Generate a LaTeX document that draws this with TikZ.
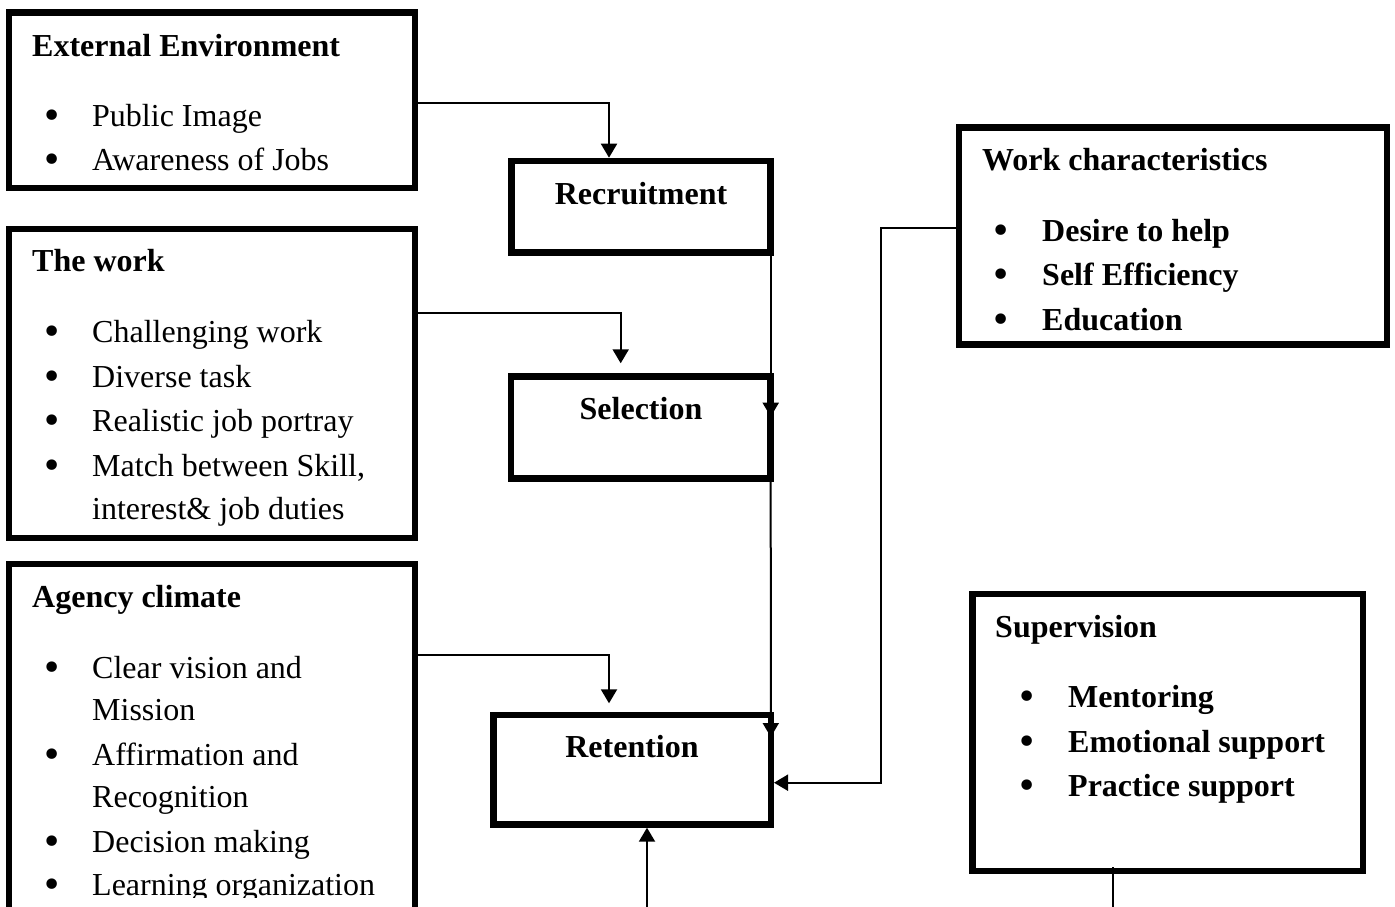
\documentclass[tikz,border=0pt]{standalone}
\usepackage{fontspec}
\setmainfont{Liberation Serif}
\newfontfamily\bulfont{DejaVu Sans}
\usetikzlibrary{arrows.meta}
\begin{document}
\begin{tikzpicture}[x=1pt,y=-1pt,
  box/.style={draw, rectangle, line width=6.5pt, inner sep=0pt, outer sep=0pt},
  conn/.style={line width=2pt},
  arr/.style={conn, -{Triangle[width=16pt,length=14pt]}},
  txt/.style={anchor=base west, inner sep=0pt, font=\fontsize{32}{38}\selectfont},
  ttl/.style={anchor=base west, inner sep=0pt, font=\fontsize{32}{38}\selectfont\bfseries},
  btxt/.style={ttl},
  lbl/.style={anchor=base, inner sep=0pt, font=\fontsize{32}{38}\selectfont\bfseries},
  bul/.style={anchor=base, inner sep=0pt, yshift=-2pt, font=\bulfont\fontsize{36}{40}\selectfont}]
\useasboundingbox (0,0) rectangle (1395,907);
\clip (0,0) rectangle (1395,907);

% ---------- boxes ----------
\node[box, minimum width=406pt, minimum height=175.3pt] (ext) at (212,100.35) {};
\node[box, minimum width=406pt, minimum height=309pt] (work) at (212,383.5) {};
\node[box, minimum width=406pt, minimum height=396pt] (agency) at (212,762) {};
\node[box, minimum width=259.4pt, minimum height=91.3pt] (rec) at (641,206.65) {};
\node[box, minimum width=259.7pt, minimum height=101.6pt] (sel) at (640.85,427.5) {};
\node[box, minimum width=277.5pt, minimum height=109.3pt] (ret) at (632.05,769.65) {};
\node[box, minimum width=428pt, minimum height=217pt] (wc) at (1173,236) {};
\node[box, minimum width=390.3pt, minimum height=277pt] (sup) at (1167.85,732.5) {};

% ---------- External Environment ----------
\node[ttl] (extT) at (32,56.5) {External Environment};
\node[bul] (ext1b) at (52,126.5) {•};
\node[txt] (ext1) at (92,126.5) {Public Image};
\node[bul] (ext2b) at (52,170.5) {•};
\node[txt] (ext2) at (92,170.5) {Awareness of Jobs};

% ---------- The work ----------
\node[ttl] (workT) at (32,271.5) {The work};
\node[bul] (work1b) at (52,342.5) {•};
\node[txt] (work1) at (92,342.5) {Challenging work};
\node[bul] (work2b) at (52,387.5) {•};
\node[txt] (work2) at (92,387.5) {Diverse task};
\node[bul] (work3b) at (52,431.5) {•};
\node[txt] (work3) at (92,431.5) {Realistic job portray};
\node[bul] (work4b) at (52,476.5) {•};
\node[txt] (work4) at (92,476.5) {Match between Skill,};
\node[txt] (work5) at (92,519.5) {interest\& job duties};

% ---------- Agency climate ----------
\node[ttl] (agT) at (32,607.5) {Agency climate};
\node[bul] (ag1b) at (52,678.5) {•};
\node[txt] (ag1) at (92,678.5) {Clear vision and};
\node[txt] (ag1c) at (92,720.5) {Mission};
\node[bul] (ag2b) at (52,765.5) {•};
\node[txt] (ag2) at (92,765.5) {Affirmation and};
\node[txt] (ag2c) at (92,807.5) {Recognition};
\node[bul] (ag3b) at (52,852.5) {•};
\node[txt] (ag3) at (92,852.5) {Decision making};
\node[bul] (ag4b) at (52,895.5) {•};
\begin{scope}
  \clip (0,0) rectangle (1395,897);
  \node[txt] (ag4) at (92,895.5) {Learning organization};
\end{scope}

% ---------- centre boxes ----------
\node[lbl] (recT) at (641,204) {Recruitment};
\node[lbl] (selT) at (641,419.3) {Selection};
\node[lbl] (retT) at (632,757.3) {Retention};

% ---------- Work characteristics ----------
\node[ttl] (wcT) at (982,170.5) {Work characteristics};
\node[bul] (wc1b) at (1001,241.5) {•};
\node[btxt] (wc1) at (1042,241.5) {Desire to help};
\node[bul] (wc2b) at (1001,285.5) {•};
\node[btxt] (wc2) at (1042,285.5) {Self Efficiency};
\node[bul] (wc3b) at (1001,330.5) {•};
\node[btxt] (wc3) at (1042,330.5) {Education};

% ---------- Supervision ----------
\node[ttl] (supT) at (995,637.5) {Supervision};
\node[bul] (sup1b) at (1027,707.5) {•};
\node[btxt] (sup1) at (1068,707.5) {Mentoring};
\node[bul] (sup2b) at (1027,752.5) {•};
\node[btxt] (sup2) at (1068,752.5) {Emotional support};
\node[bul] (sup3b) at (1027,796.5) {•};
\node[btxt] (sup3) at (1068,796.5) {Practice support};

% ---------- connectors ----------
\coordinate (selin) at (620.7,363.3);
\coordinate (retin) at (609,703.3);
\coordinate (supout) at (1112.7,920);
\coordinate (bottomin) at (647,920);

\draw[arr, shorten >=3.3pt] (ext.east |- 0,103) -| (rec.north -| 609,0);
\draw[arr] (work.east |- 0,313) -| (selin);
\draw[arr] (agency.east |- 0,655) -| (retin);
\draw[arr] (rec.south east) -- (sel.east |- 0,416.7);
\draw[arr] (sel.east |- 0,416.7) -- (ret.east |- 0,737);
\draw[arr, shorten >=3.2pt] (wc.west |- 0,228.3) -- ++(-78,0) |- (ret.east |- 0,782.7);
\draw[conn] ([yshift=4pt]sup.south -| supout) -- (supout);
\draw[arr, shorten >=3.4pt] (bottomin) -- (ret.south -| bottomin);
\end{tikzpicture}
\end{document}
